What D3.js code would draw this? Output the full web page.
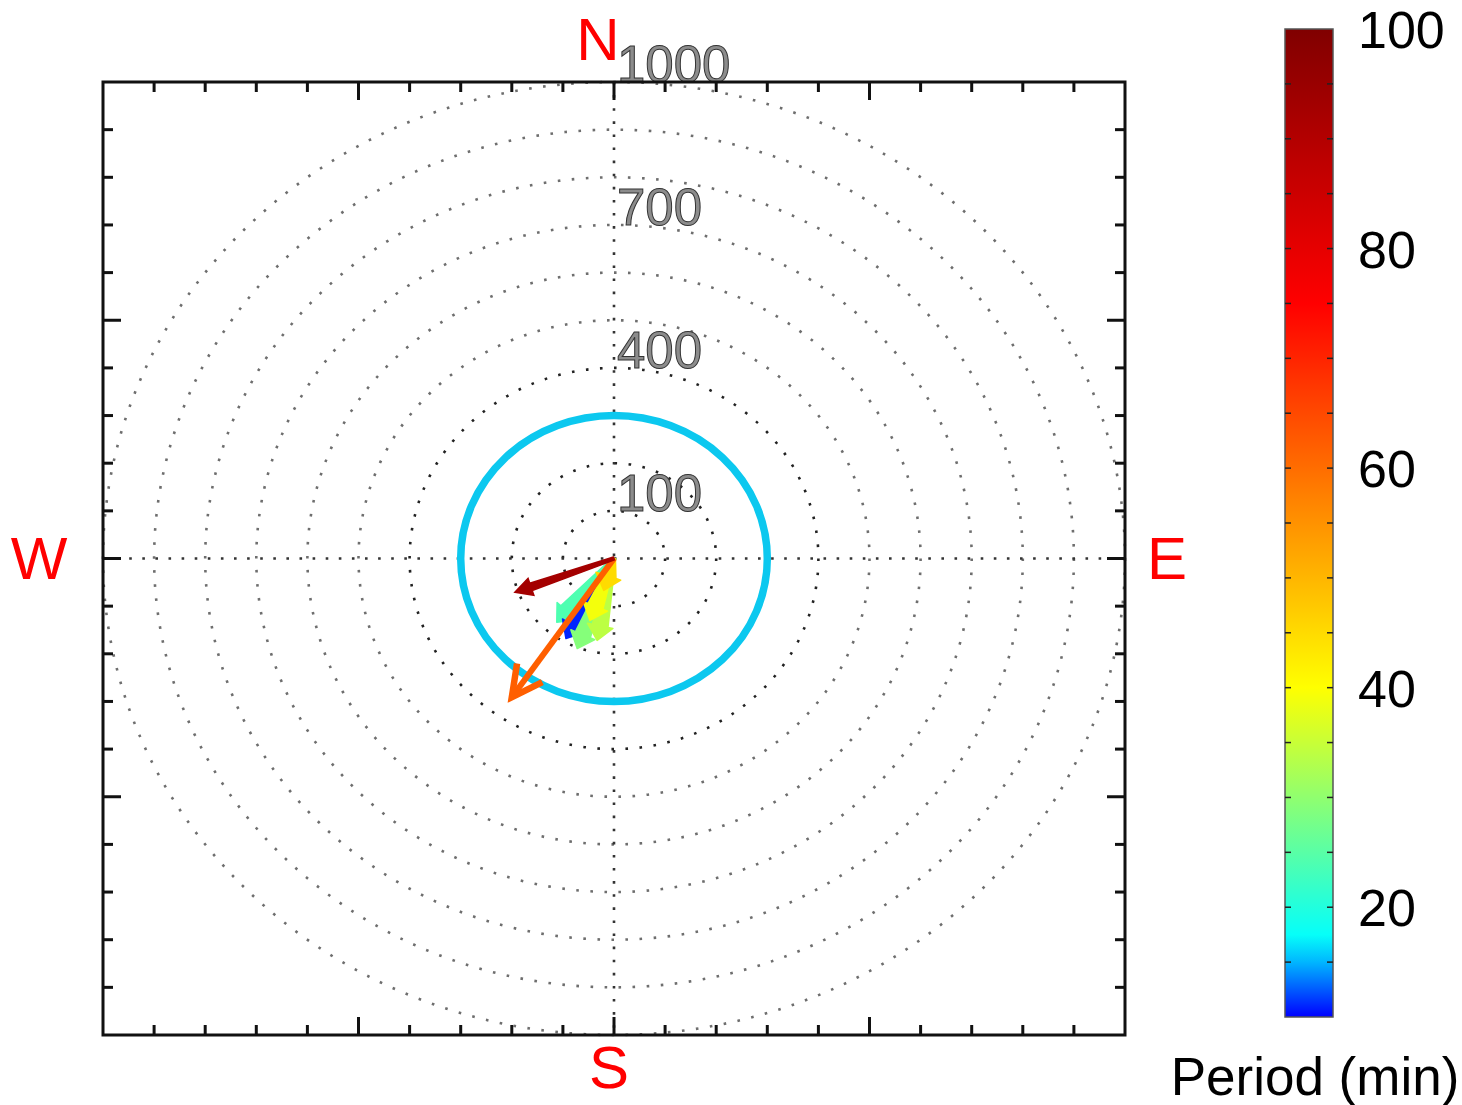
<!DOCTYPE html>
<html>
<head>
<meta charset="utf-8">
<script src="https://cdn.jsdelivr.net/npm/d3@7/dist/d3.min.js"></script>
<style>
  html, body { margin: 0; padding: 0; background: #fff; }
  svg { display: block; }
  text { font-family: "Liberation Sans", Arial, sans-serif; }
</style>
</head>
<body>
<svg id="chart" width="1462" height="1105"></svg>
<script>
// Range rings (m) and the rings that carry a label
const ringRadii = [100, 200, 300, 400, 500, 600, 700, 800, 900, 1000];
const ringLabels = [100, 400, 700, 1000];
// Reference circle radius
const refRadius = 300;

// Individual vectors: east / north components and period (min)
const fanEast   = [-112, -94, -72, -33, -47, -20];
const fanNorth  = [-134, -168, -189, -172, -130, -67];
const fanPeriod = [24, 11, 29, 34, 39, 45];

// Mean vectors
const meanEast   = [-200, -194];
const meanNorth  = [-291, -71];
const meanPeriod = [62, 93];

// Compass labels
const compass = ["N", "E", "S", "W"];

// Colour bar
const cbarTicks = [15, 20, 25, 30, 35, 40, 45, 50, 55, 60, 65, 70, 75, 80, 85, 90, 95];
const cbarLabels = [20, 40, 60, 80, 100];
const cmapStops = [10, 17, 40, 75, 100];
const cmapColors = ["#0000ff", "#00ffff", "#ffff00", "#ff0000", "#800000"];

const svg = d3.select("#chart");

const box = { left: 103, right: 1125, top: 82, bottom: 1035 };
const x = d3.scaleLinear().domain([-1000, 1000]).range([box.left, box.right]);
const y = d3.scaleLinear().domain([-1000, 1000]).range([box.bottom, box.top]);
const color = d3.scaleLinear().domain(cmapStops).range(cmapColors).clamp(true);

const cx = x(0), cy = y(0);

// Dotted range rings
const g = svg.append("g");
g.selectAll("ellipse.ring").data(ringRadii).join("ellipse")
  .attr("class", "ring")
  .attr("cx", cx).attr("cy", cy)
  .attr("rx", d => x(d) - cx)
  .attr("ry", d => cy - y(d))
  .attr("fill", "none")
  .attr("stroke", d => d <= 400 ? "#222" : "#6e6e6e")
  .attr("stroke-width", 2.6)
  .attr("stroke-dasharray", "2.6,11.5");

// Dotted cross-hair axes
g.append("line").attr("x1", x(-1000)).attr("x2", x(1000)).attr("y1", cy).attr("y2", cy)
  .attr("stroke", "#333").attr("stroke-width", 2.6).attr("stroke-dasharray", "2.6,10.5");
g.append("line").attr("x1", cx).attr("x2", cx).attr("y1", y(1000)).attr("y2", y(-1000))
  .attr("stroke", "#333").attr("stroke-width", 2.6).attr("stroke-dasharray", "2.6,10.5");

// Ring labels
g.selectAll("text.rlab").data(ringLabels).join("text")
  .attr("class", "rlab")
  .attr("x", cx + 3)
  .attr("y", d => y(d))
  .attr("font-size", 51)
  .attr("fill", "#8c8c8c")
  .attr("stroke", "#333")
  .attr("stroke-width", 1)
  .text(d => d);

// Reference circle
g.append("ellipse")
  .attr("cx", cx).attr("cy", cy)
  .attr("rx", x(refRadius) - cx)
  .attr("ry", cy - y(refRadius))
  .attr("fill", "none")
  .attr("stroke", "#0cc8ef")
  .attr("stroke-width", 7.5);

// Filled arrow polygon from (x0,y0) to (x1,y1)
function arrowPoly(x0, y0, x1, y1, sw, hw, hl) {
  const dx = x1 - x0, dy = y1 - y0, L = Math.hypot(dx, dy);
  const ux = dx / L, uy = dy / L, nx = -uy, ny = ux;
  const bx = x1 - ux * hl, by = y1 - uy * hl;
  return [
    [x0 + nx * 1.5, y0 + ny * 1.5],
    [bx + nx * sw, by + ny * sw],
    [bx + nx * hw, by + ny * hw],
    [x1, y1],
    [bx - nx * hw, by - ny * hw],
    [bx - nx * sw, by - ny * sw],
    [x0 - nx * 1.5, y0 - ny * 1.5]
  ];
}

// Individual vectors
const fan = fanEast.map((e, i) => ({ e, n: fanNorth[i], p: fanPeriod[i] }));
g.selectAll("path.fan").data(fan).join("path")
  .attr("class", "fan")
  .attr("d", d => d3.line()(arrowPoly(cx, cy, x(d.e), y(d.n), 8, 13, 15)) + "Z")
  .attr("fill", d => color(d.p))
  .attr("stroke", d => color(d.p))
  .attr("stroke-width", 1.5)
  .attr("stroke-linejoin", "round");

// Mean vector with open head
{
  const tx = x(meanEast[0]), ty = y(meanNorth[0]);
  const col = color(meanPeriod[0]);
  const ang = Math.atan2(ty - cy, tx - cx);
  const arm = 34, spread = 0.48;
  g.append("line").attr("x1", cx).attr("y1", cy).attr("x2", tx).attr("y2", ty)
    .attr("stroke", col).attr("stroke-width", 6);
  g.append("path")
    .attr("d", d3.line()([
      [tx - arm * Math.cos(ang - spread), ty - arm * Math.sin(ang - spread)],
      [tx, ty],
      [tx - arm * Math.cos(ang + spread), ty - arm * Math.sin(ang + spread)]
    ]))
    .attr("fill", "none").attr("stroke", col).attr("stroke-width", 6.5)
    .attr("stroke-linejoin", "miter");
}

// Mean vector with filled head
g.append("path")
  .attr("d", d3.line()(arrowPoly(cx, cy, x(meanEast[1]), y(meanNorth[1]), 3.8, 9, 17)) + "Z")
  .attr("fill", color(meanPeriod[1]))
  .attr("stroke", color(meanPeriod[1]))
  .attr("stroke-width", 1.5);

// Frame and inward ticks
const tickVals = d3.range(-900, 1000, 100);
const tickLen = v => (v % 500 === 0) ? 18 : 10;
const frame = svg.append("g").attr("stroke", "#111").attr("stroke-width", 3);
frame.append("rect")
  .attr("x", box.left).attr("y", box.top)
  .attr("width", box.right - box.left).attr("height", box.bottom - box.top)
  .attr("fill", "none");
tickVals.forEach(v => {
  const L = tickLen(v);
  frame.append("line").attr("x1", x(v)).attr("x2", x(v)).attr("y1", box.bottom).attr("y2", box.bottom - L);
  frame.append("line").attr("x1", x(v)).attr("x2", x(v)).attr("y1", box.top).attr("y2", box.top + L);
  frame.append("line").attr("y1", y(v)).attr("y2", y(v)).attr("x1", box.left).attr("x2", box.left + L);
  frame.append("line").attr("y1", y(v)).attr("y2", y(v)).attr("x1", box.right).attr("x2", box.right - L);
});

// Compass letters
const compassPos = {
  N: [cx - 16, box.top - 22],
  S: [cx - 5, box.bottom + 53],
  W: [box.left - 64, cy + 20],
  E: [box.right + 42, cy + 20]
};
svg.selectAll("text.compass").data(compass).join("text")
  .attr("class", "compass")
  .attr("x", d => compassPos[d][0])
  .attr("y", d => compassPos[d][1])
  .attr("text-anchor", "middle")
  .attr("font-size", 60)
  .attr("fill", "#ff0000")
  .text(d => d);

// Colour bar
const cb = { x: 1285, w: 48 };
const cy2 = d3.scaleLinear().domain([10, 100]).range([1017, 29]);
const defs = svg.append("defs");
const grad = defs.append("linearGradient").attr("id", "cbar")
  .attr("x1", 0).attr("y1", 1).attr("x2", 0).attr("y2", 0);
d3.range(10, 100.01, 2.5).forEach(v => {
  grad.append("stop").attr("offset", (v - 10) / 90).attr("stop-color", color(v));
});
svg.append("rect")
  .attr("x", cb.x).attr("y", cy2(100))
  .attr("width", cb.w).attr("height", cy2(10) - cy2(100))
  .attr("fill", "url(#cbar)")
  .attr("stroke", "#555").attr("stroke-width", 1.5);
const cbt = svg.append("g").attr("stroke", "#222").attr("stroke-width", 1.5);
cbarTicks.forEach(v => {
  cbt.append("line").attr("x1", cb.x).attr("x2", cb.x + 6).attr("y1", cy2(v)).attr("y2", cy2(v));
  cbt.append("line").attr("x1", cb.x + cb.w - 6).attr("x2", cb.x + cb.w).attr("y1", cy2(v)).attr("y2", cy2(v));
});
svg.selectAll("text.cblab").data(cbarLabels).join("text")
  .attr("class", "cblab")
  .attr("x", 1358)
  .attr("y", d => cy2(d) + 19)
  .attr("font-size", 52)
  .attr("fill", "#000")
  .text(d => d);
svg.append("text")
  .attr("x", 1315).attr("y", 1095)
  .attr("text-anchor", "middle")
  .attr("font-size", 53)
  .attr("fill", "#000")
  .text("Period (min)");
</script>
</body>
</html>
